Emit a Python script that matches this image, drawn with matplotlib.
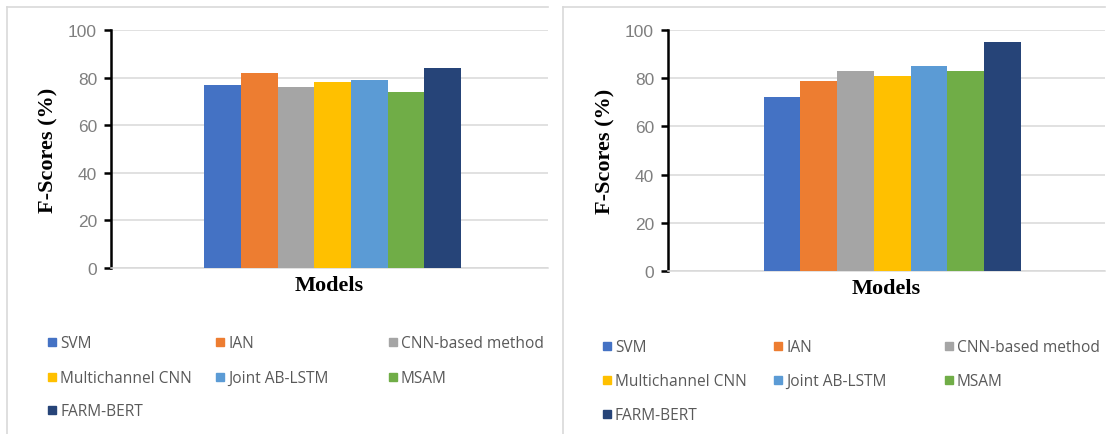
import matplotlib
matplotlib.use("Agg")
import matplotlib.pyplot as plt
from matplotlib.patches import Rectangle
from matplotlib.lines import Line2D

models = ["SVM", "IAN", "CNN-based method", "Multichannel CNN",
          "Joint AB-LSTM", "MSAM", "FARM-BERT"]
scores_left = [77, 82, 76, 78, 79, 74, 84]
scores_right = [72, 79, 83, 81, 85, 83, 95]
colors = ["#4472C4", "#ED7D31", "#A5A5A5", "#FFC000",
          "#5B9BD5", "#70AD47", "#264478"]
yticks = [0, 20, 40, 60, 80, 100]

W, H = 1111, 435
fig = plt.figure(figsize=(W / 100, H / 100), dpi=100)

def fx(px):
    return px / W

def fy(py):
    return 1 - py / H

# panel borders (left and top lines)
for x0, x1 in [(7, 548), (563, 1105)]:
    fig.add_artist(Line2D([fx(x0), fx(x1)], [fy(7.5), fy(7.5)], color="#D9D9D9", lw=1.2))
    fig.add_artist(Line2D([fx(x0), fx(x0)], [fy(7.5), fy(435)], color="#D9D9D9", lw=1.2))

panels = [
    dict(scores=scores_left, ax=(111, 548, 31, 269), shift=0.012,
         leg_x=[48, 216, 389], leg_y=[344, 379, 412]),
    dict(scores=scores_right, ax=(668, 1105, 31, 272), shift=0.022,
         leg_x=[603, 774, 945], leg_y=[348, 382, 416]),
]

bw = 1.0 / 7
for p in panels:
    x0, x1, ytop, ybot = p["ax"]
    ax = fig.add_axes([fx(x0), fy(ybot), fx(x1 - x0), (ybot - ytop) / H])
    for i, (m, v, c) in enumerate(zip(models, p["scores"], colors)):
        ax.bar(-0.5 + bw * (i + 0.5), v, width=bw, color=c, label=m, zorder=3)
    ax.set_xlim(-0.85 - p["shift"], 0.85 - p["shift"])
    ax.set_ylim(0, 100)
    ax.set_yticks(yticks)
    ax.set_yticklabels([str(t) for t in yticks], fontsize=12.5, color="#7F7F7F",
                       fontfamily="Liberation Sans")
    ax.set_xticks([])
    ax.grid(axis="y", color="#D9D9D9", lw=1.1, zorder=0)
    for s in ["top", "right"]:
        ax.spines[s].set_visible(False)
    ax.spines["bottom"].set_color("#D9D9D9")
    ax.spines["bottom"].set_linewidth(1.1)
    ax.spines["left"].set_color("black")
    ax.spines["left"].set_linewidth(1.8)
    ax.tick_params(axis="y", length=5, width=1.8, color="black", pad=5)
    ax.set_ylabel("F-Scores (%)", fontsize=16, fontweight="bold",
                  fontfamily="Liberation Serif", labelpad=7)
    ax.set_xlabel("Models", fontsize=16, fontweight="bold",
                  fontfamily="Liberation Serif", labelpad=5)
    # legend
    for i, (m, c) in enumerate(zip(models, colors)):
        r, col = divmod(i, 3)
        lx = p["leg_x"][col]
        ly = p["leg_y"][r]
        fig.add_artist(Rectangle((fx(lx), fy(ly + 2.5)), fx(8), 8 / H, color=c,
                                 transform=fig.transFigure))
        fig.text(fx(lx + 12), fy(ly), m, fontsize=11.2, color="#595959",
                 fontfamily="Open Sans", va="center", ha="left")

fig.savefig("out.png", dpi=100)
